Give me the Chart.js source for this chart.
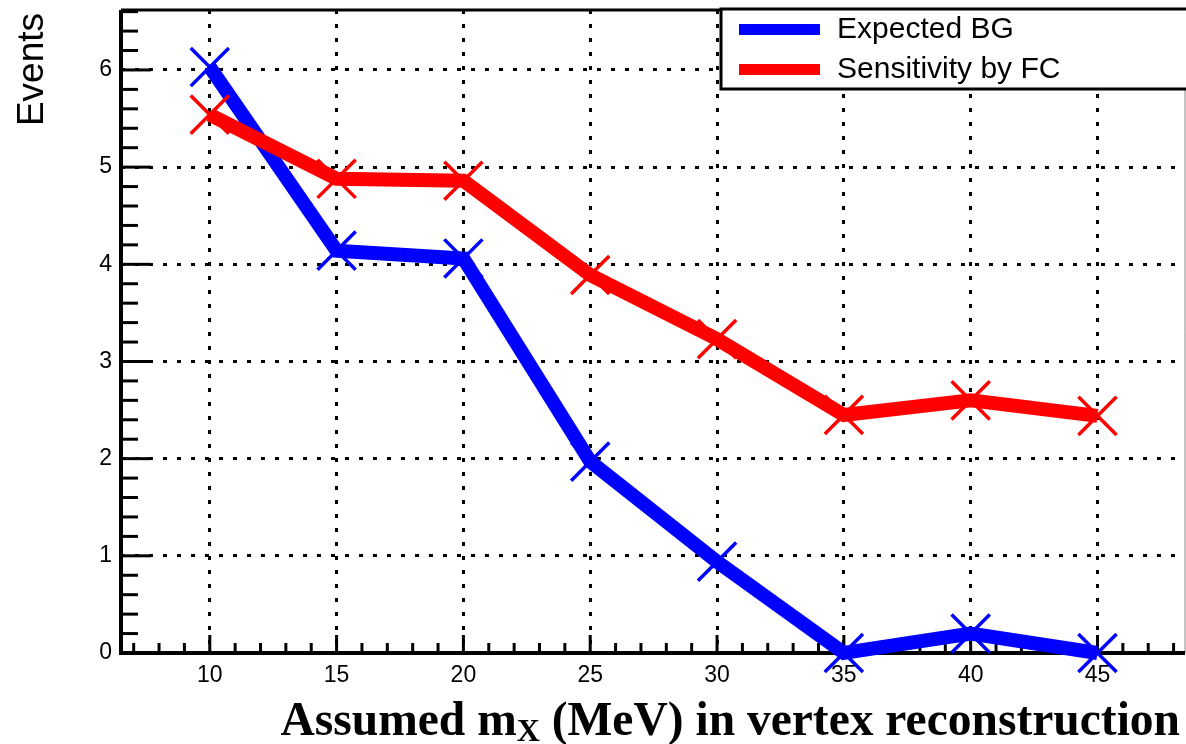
<!DOCTYPE html>
<html>
<head>
<meta charset="utf-8">
<script src="https://cdn.jsdelivr.net/npm/chart.js@4/dist/chart.umd.min.js"></script>
<style>
    body { margin: 0; background: #fff; }
    #wrap { width: 1186px; height: 744px; }
</style>
</head>
<body>
<div id="wrap"><canvas id="events-chart" width="1186" height="744"></canvas></div>
<script>
const massValues = [10, 15, 20, 25, 30, 35, 40, 45];
const expectedBG = [6.03, 4.14, 4.06, 1.97, 0.94, 0.0, 0.2, 0.0];
const sensitivityFC = [5.54, 4.88, 4.86, 3.89, 3.23, 2.45, 2.6, 2.44];
const xTicks = [10, 15, 20, 25, 30, 35, 40, 45];
const yTicks = [0, 1, 2, 3, 4, 5, 6];
const legendLabels = ['Expected BG', 'Sensitivity by FC'];
const seriesColors = ['#0000ff', '#ff0000'];

const toPoints = (ys) => massValues.map((x, i) => ({x: x, y: ys[i]}));

const noPadding = (scale) => {
    scale.paddingTop = 0;
    scale.paddingBottom = 0;
    scale.paddingLeft = 0;
    scale.paddingRight = 0;
};

// ROOT style frame: axes, inside ticks, legend box and titles
const rootFrame = {
    id: 'rootFrame',
    beforeDatasetsDraw(chart) {
        const ctx = chart.ctx;
        const area = chart.chartArea;
        const xs = chart.scales.x;
        const ys = chart.scales.y;
        ctx.save();
        ctx.strokeStyle = '#000';
        // minor + major ticks on x
        ctx.lineWidth = 3;
        for (let v = 7; v <= 48; v++) {
            const px = xs.getPixelForValue(v);
            const len = v % 5 === 0 ? 18 : 10;
            ctx.beginPath();
            ctx.moveTo(px, area.bottom);
            ctx.lineTo(px, area.bottom - len);
            ctx.stroke();
        }
        for (let k = 0; k <= 33; k++) {
            const v = k * 0.2;
            const py = ys.getPixelForValue(v);
            const len = k % 5 === 0 ? 30 : 17;
            ctx.beginPath();
            ctx.moveTo(area.left, py);
            ctx.lineTo(area.left + len, py);
            ctx.stroke();
        }
        // frame
        ctx.lineWidth = 1;
        ctx.strokeStyle = '#888';
        ctx.beginPath();
        ctx.moveTo(area.right, area.top);
        ctx.lineTo(area.right, area.bottom);
        ctx.stroke();
        ctx.strokeStyle = '#000';
        ctx.lineWidth = 3;
        ctx.beginPath();
        ctx.moveTo(area.left, area.top);
        ctx.lineTo(area.right, area.top);
        ctx.stroke();
        ctx.lineWidth = 4;
        ctx.beginPath();
        ctx.moveTo(area.left, area.top);
        ctx.lineTo(area.left, area.bottom);
        ctx.lineTo(area.right, area.bottom);
        ctx.stroke();
        ctx.restore();
    },
    afterDraw(chart) {
        const ctx = chart.ctx;
        ctx.save();
        // legend
        ctx.fillStyle = '#fff';
        ctx.fillRect(721, 9, 470, 80);
        ctx.strokeStyle = '#000';
        ctx.lineWidth = 3;
        ctx.strokeRect(721, 9, 470, 80);
        ctx.font = '30px "Liberation Sans", Arial, sans-serif';
        ctx.textBaseline = 'middle';
        legendLabels.forEach((label, i) => {
            const cy = 29.5 + i * 40;
            ctx.fillStyle = seriesColors[i];
            ctx.fillRect(739, cy - 5.5, 81, 11);
            ctx.fillStyle = '#000';
            ctx.fillText(label, 837, cy);
        });
        // y title
        ctx.save();
        ctx.translate(43, 13);
        ctx.rotate(-Math.PI / 2);
        ctx.font = '37px "Liberation Sans", Arial, sans-serif';
        ctx.textAlign = 'right';
        ctx.textBaseline = 'alphabetic';
        ctx.fillStyle = '#000';
        ctx.fillText('Events', 0, 0);
        ctx.restore();
        // x title with subscript
        const mainFont = 'bold 47.5px "Liberation Serif", "Times New Roman", serif';
        const subFont = 'bold 32px "Liberation Serif", "Times New Roman", serif';
        const parts = [['Assumed m', mainFont, 0], ['X', subFont, 6], [' (MeV) in vertex reconstruction', mainFont, 0]];
        let total = 0;
        parts.forEach(p => { ctx.font = p[1]; total += ctx.measureText(p[0]).width; });
        let x = 1180 - total;
        ctx.fillStyle = '#000';
        ctx.textBaseline = 'alphabetic';
        ctx.textAlign = 'left';
        parts.forEach(p => {
            ctx.font = p[1];
            ctx.fillText(p[0], x, 735 + p[2]);
            x += ctx.measureText(p[0]).width;
        });
        ctx.restore();
    }
};

new Chart(document.getElementById('events-chart'), {
    type: 'line',
    data: {
        datasets: [{
            label: legendLabels[1],
            data: toPoints(sensitivityFC),
            borderColor: seriesColors[1],
            borderWidth: 14,
            pointStyle: 'crossRot',
            pointRadius: 27,
            pointBorderWidth: 3.5,
            pointBorderColor: seriesColors[1],
            pointBackgroundColor: seriesColors[1],
            tension: 0,
            clip: false
        }, {
            label: legendLabels[0],
            data: toPoints(expectedBG),
            borderColor: seriesColors[0],
            borderWidth: 14,
            pointStyle: 'crossRot',
            pointRadius: 27,
            pointBorderWidth: 3.5,
            pointBorderColor: seriesColors[0],
            pointBackgroundColor: seriesColors[0],
            tension: 0,
            clip: false
        }]
    },
    options: {
        responsive: false,
        animation: false,
        devicePixelRatio: 1,
        layout: {autoPadding: false, padding: {top: 10, right: 1, left: 0, bottom: 0}},
        plugins: {legend: {display: false}, tooltip: {enabled: false}},
        elements: {point: {hoverRadius: 27}},
        scales: {
            x: {
                type: 'linear',
                min: 6.5,
                max: 48.45,
                afterBuildTicks: (scale) => { scale.ticks = xTicks.map(v => ({value: v})); },
                afterFit: (scale) => { scale.height = 91; noPadding(scale); },
                grid: {color: '#000', lineWidth: 3, drawTicks: false},
                border: {display: false, dash: [4, 10]},
                ticks: {
                    color: '#000',
                    padding: 9,
                    maxRotation: 0,
                    font: {family: '"Liberation Sans", Arial, sans-serif', size: 23}
                }
            },
            y: {
                type: 'linear',
                min: 0,
                max: 6.617,
                afterBuildTicks: (scale) => { scale.ticks = yTicks.map(v => ({value: v})); },
                afterFit: (scale) => { scale.width = 121; noPadding(scale); },
                grid: {color: '#000', lineWidth: 3, drawTicks: false},
                border: {display: false, dash: [4, 10]},
                ticks: {
                    color: '#000',
                    padding: 9,
                    font: {family: '"Liberation Sans", Arial, sans-serif', size: 23}
                }
            }
        }
    },
    plugins: [rootFrame]
});
</script>
</body>
</html>
